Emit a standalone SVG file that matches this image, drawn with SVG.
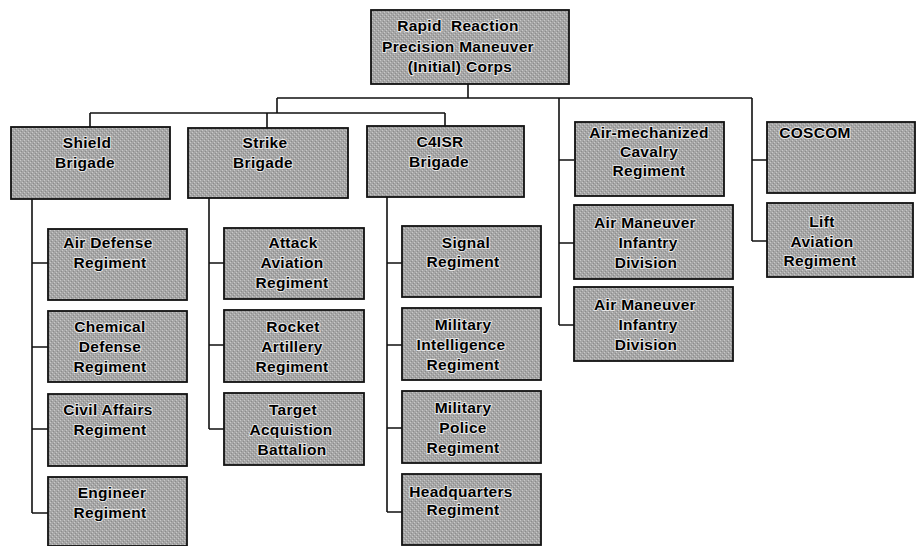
<svg xmlns="http://www.w3.org/2000/svg" width="917" height="546" viewBox="0 0 917 546">
<style>
.box{fill:url(#tex);stroke:#111;stroke-width:1.8}
.t{font-family:"Liberation Sans",Arial,sans-serif;font-weight:bold;font-size:15.5px;letter-spacing:0.3px;fill:#000;stroke:#e6e6e6;stroke-width:2px;stroke-linejoin:round;paint-order:stroke;text-anchor:middle;white-space:pre}
.c{fill:none;stroke:#111;stroke-width:1.6}
</style>
<defs>
<pattern id="tex" width="4" height="4" patternUnits="userSpaceOnUse">
<rect width="4" height="4" fill="#a6a6a6"/>
<rect x="0" y="0" width="1" height="1" fill="#c8c8c8"/>
<rect x="2" y="2" width="1" height="1" fill="#c8c8c8"/>
<rect x="1" y="3" width="1" height="1" fill="#8c8c8c"/>
<rect x="3" y="1" width="1" height="1" fill="#8c8c8c"/>
</pattern>
</defs>
<rect width="917" height="546" fill="#fff"/>
<g id="connectors">
<path class="c" d="M468 84V98M277 98H752M277 98V113M90 113H445M90 113V127M267 113V128M445 113V126"/>
<path class="c" d="M32 199V513M32 263H48M32 347H48M32 429H48M32 513H48"/>
<path class="c" d="M209 198V429M209 263H224M209 345H224M209 429H224"/>
<path class="c" d="M387 197V512M387 263H402M387 345H402M387 428H402M387 512H402"/>
<path class="c" d="M559 98V325M559 160H574M559 243H574M559 325H574"/>
<path class="c" d="M752 98V241M752 160H767M752 241H767"/>
</g>
<g id="corps"><rect class="box" x="371" y="10" width="198" height="74"/>
<text class="t" x="458" y="31" xml:space="preserve">Rapid  Reaction</text><text class="t" x="458" y="52">Precision Maneuver</text><text class="t" x="460" y="72">(Initial) Corps</text></g>
<g id="shield"><rect class="box" x="11" y="127" width="159" height="72"/>
<text class="t" x="87" y="148">Shield</text><text class="t" x="85" y="168">Brigade</text></g>
<g id="strike"><rect class="box" x="188" y="128" width="160" height="70"/>
<text class="t" x="265" y="148">Strike</text><text class="t" x="263" y="168">Brigade</text></g>
<g id="c4isr"><rect class="box" x="367" y="126" width="157" height="71"/>
<text class="t" x="440" y="147">C4ISR</text><text class="t" x="439" y="167">Brigade</text></g>
<g id="airmech"><rect class="box" x="575" y="122" width="149" height="74"/>
<text class="t" x="649" y="138">Air-mechanized</text><text class="t" x="649" y="157">Cavalry</text><text class="t" x="649" y="176">Regiment</text></g>
<g id="coscom"><rect class="box" x="767" y="122" width="148" height="71"/>
<text class="t" x="815" y="138">COSCOM</text></g>
<g id="airdef"><rect class="box" x="48" y="229" width="139" height="71"/>
<text class="t" x="108" y="248">Air Defense</text><text class="t" x="110" y="268">Regiment</text></g>
<g id="chemdef"><rect class="box" x="48" y="311" width="139" height="71"/>
<text class="t" x="110" y="332">Chemical</text><text class="t" x="110" y="352">Defense</text><text class="t" x="110" y="372">Regiment</text></g>
<g id="civil"><rect class="box" x="48" y="394" width="139" height="72"/>
<text class="t" x="108" y="415">Civil Affairs</text><text class="t" x="110" y="435">Regiment</text></g>
<g id="engineer"><rect class="box" x="48" y="477" width="139" height="69"/>
<text class="t" x="112" y="498">Engineer</text><text class="t" x="110" y="518">Regiment</text></g>
<g id="attack"><rect class="box" x="224" y="228" width="140" height="71"/>
<text class="t" x="293" y="248">Attack</text><text class="t" x="292" y="268">Aviation</text><text class="t" x="292" y="288">Regiment</text></g>
<g id="rocket"><rect class="box" x="224" y="310" width="140" height="72"/>
<text class="t" x="293" y="332">Rocket</text><text class="t" x="292" y="352">Artillery</text><text class="t" x="292" y="372">Regiment</text></g>
<g id="target"><rect class="box" x="224" y="393" width="140" height="72"/>
<text class="t" x="293" y="415">Target</text><text class="t" x="291" y="435">Acquistion</text><text class="t" x="292" y="455">Battalion</text></g>
<g id="signal"><rect class="box" x="402" y="226" width="139" height="71"/>
<text class="t" x="466" y="248">Signal</text><text class="t" x="463" y="267">Regiment</text></g>
<g id="milint"><rect class="box" x="402" y="308" width="139" height="72"/>
<text class="t" x="463" y="330">Military</text><text class="t" x="461" y="350">Intelligence</text><text class="t" x="463" y="370">Regiment</text></g>
<g id="milpol"><rect class="box" x="402" y="391" width="139" height="72"/>
<text class="t" x="463" y="413">Military</text><text class="t" x="463" y="433">Police</text><text class="t" x="463" y="453">Regiment</text></g>
<g id="hq"><rect class="box" x="402" y="474" width="139" height="71"/>
<text class="t" x="461" y="497">Headquarters</text><text class="t" x="463" y="515">Regiment</text></g>
<g id="airman1"><rect class="box" x="574" y="205" width="159" height="74"/>
<text class="t" x="645" y="228">Air Maneuver</text><text class="t" x="648" y="248">Infantry</text><text class="t" x="646" y="268">Division</text></g>
<g id="airman2"><rect class="box" x="574" y="287" width="159" height="74"/>
<text class="t" x="645" y="310">Air Maneuver</text><text class="t" x="648" y="330">Infantry</text><text class="t" x="646" y="350">Division</text></g>
<g id="lift"><rect class="box" x="767" y="203" width="146" height="74"/>
<text class="t" x="822" y="227">Lift</text><text class="t" x="822" y="247">Aviation</text><text class="t" x="820" y="266">Regiment</text></g>
</svg>
